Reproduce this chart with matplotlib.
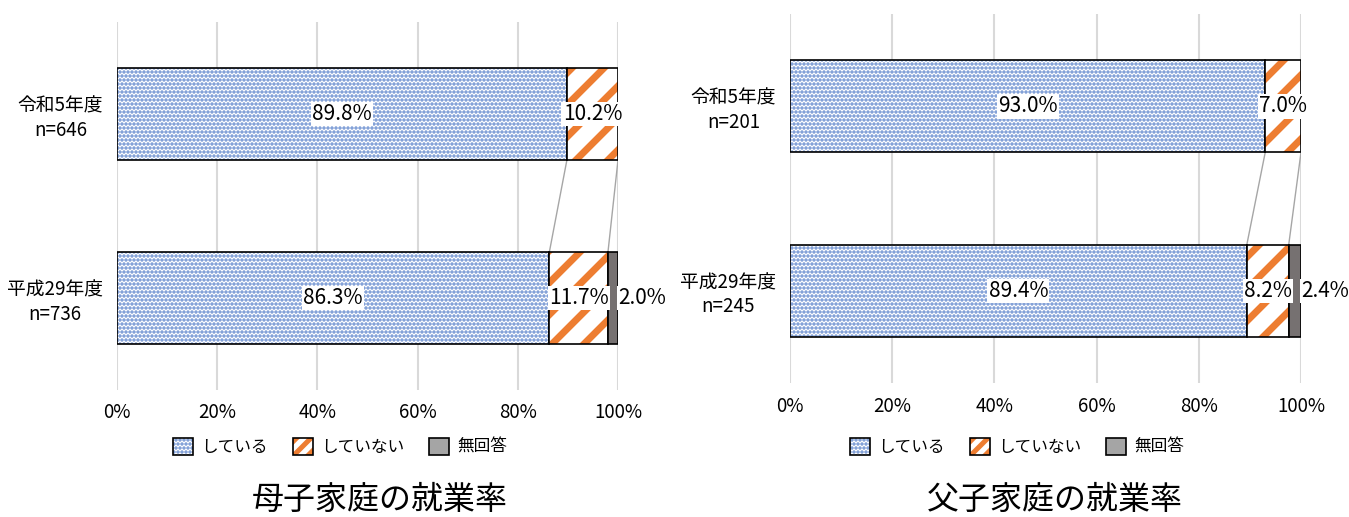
import numpy as np
import matplotlib
matplotlib.use('Agg')
import matplotlib.pyplot as plt
from matplotlib.patches import Patch, Rectangle
from matplotlib.lines import Line2D
from matplotlib.colors import to_rgba
from matplotlib.legend_handler import HandlerPatch, HandlerBase

plt.rcParams['font.family'] = ['Noto Sans CJK JP', 'DejaVu Sans']

# data
categories = ['平成29年度\nn=736', '令和5年度\nn=646']  # bottom -> top
mother_working = [86.3, 89.8]
mother_not = [11.7, 10.2]
mother_noans = [2.0, 0.0]

categories_f = ['平成29年度\nn=245', '令和5年度\nn=201']
father_working = [89.4, 93.0]
father_not = [8.2, 7.0]
father_noans = [2.4, 0.0]

series_names = ['している', 'していない', '無回答']
titles = ['母子家庭の就業率', '父子家庭の就業率']
ticks = [0, 20, 40, 60, 80, 100]

BLUE = '#4472C4'
ORANGE = '#ED7D31'
GRAY = '#767171'
GRAY_LEG = '#A5A5A5'

# 96 dpi so the dot hatch falls on a whole-pixel grid; sizes scaled back to 100 dpi look
DPI = 96
S = 100 / DPI
DOT_LW = 1.7
STRIPE_LW = 5.0 * S


def hatch_patch(p, hatch, color, hlw):
    p.set_hatch(hatch)
    p._hatch_color = to_rgba(color)
    if hasattr(p, 'set_hatch_linewidth'):
        p.set_hatch_linewidth(hlw)
    else:
        p._hatch_linewidth = hlw


def copy_hatch(leg_handle, orig):
    leg_handle.update_from(orig)
    leg_handle._hatch_color = orig._hatch_color
    leg_handle._hatch_linewidth = getattr(orig, '_hatch_linewidth', 1.0)


class StripeHandler(HandlerBase):
    # legend key with one diagonal stripe through the middle, like the original
    def create_artists(self, legend, orig_handle, xdescent, ydescent, width, height, fontsize, trans):
        x0, y0 = -xdescent, -ydescent
        cx, cy = x0 + width / 2, y0 + height / 2
        bg = Rectangle((x0, y0), width, height, facecolor='white', edgecolor='none', transform=trans)
        arts = [bg]
        per = 0.72 * width
        L = 2 * width
        for c in (-per, 0, per):
            ln = Line2D([cx + c - L, cx + c + L], [cy - L, cy + L], color=ORANGE,
                        lw=3.6 * S, transform=trans, solid_capstyle='butt')
            ln.set_clip_path(bg)
            arts.append(ln)
        edge = Rectangle((x0, y0), width, height, facecolor='none', edgecolor='black',
                         lw=1.2 * S, transform=trans)
        arts.append(edge)
        return arts


def draw_chart(ax, cats, work, notw, noans):
    y = np.arange(len(cats))
    h = 0.5
    work = np.array(work)
    notw = np.array(notw)
    noans = np.array(noans)

    for t in ticks:
        ax.axvline(t, color='#D9D9D9', lw=1.5 * S, zorder=0)

    b1 = ax.barh(y, work, height=h, color='white', edgecolor='black', lw=1.2 * S, zorder=2)
    for p in b1:
        hatch_patch(p, '....', BLUE, DOT_LW)
    b2 = ax.barh(y, notw, left=work, height=h, color='white', edgecolor='black', lw=1.2 * S, zorder=2)
    for p in b2:
        hatch_patch(p, '/', ORANGE, STRIPE_LW)
    mask = noans > 0
    ax.barh(y[mask], noans[mask], left=(work + notw)[mask], height=h,
            color=GRAY, edgecolor='black', lw=1.2 * S, zorder=2)

    # series lines between bars
    for a in [work, work + notw]:
        ax.plot([a[1], a[0]], [y[1] - h / 2, y[0] + h / 2], color='#A6A6A6', lw=1 * S, zorder=1)

    box = dict(facecolor='white', edgecolor='none', pad=1)
    for i in range(len(y)):
        ax.text(work[i] / 2, y[i], f'{work[i]:.1f}%', ha='center', va='center',
                fontsize=15 * S, bbox=box, zorder=4)
        ax.text(work[i] + notw[i] / 2, y[i], f'{notw[i]:.1f}%', ha='center', va='center',
                fontsize=15 * S, bbox=box, zorder=4)
        if noans[i] > 0:
            ax.text(100, y[i], f'{noans[i]:.1f}%', ha='left', va='center',
                    fontsize=15 * S, bbox=box, zorder=4, clip_on=False)

    ax.set_xlim(0, 100)
    ax.set_ylim(-0.5, 1.5)
    ax.set_xticks(ticks)
    ax.set_xticklabels([f'{t}%' for t in ticks], fontsize=13.5 * S)
    ax.set_yticks(y)
    ax.set_yticklabels(cats, fontsize=13.5 * S, multialignment='center')
    ax.tick_params(length=0)
    ax.tick_params(axis='x', pad=9 * S)
    ax.tick_params(axis='y', pad=10 * S)
    for s in ax.spines.values():
        s.set_visible(False)


fig = plt.figure(figsize=(1349 / DPI, 517 / DPI), dpi=DPI)
ax1 = fig.add_axes([117 / 1349, 127 / 517, 501 / 1349, 368 / 517])
ax2 = fig.add_axes([790 / 1349, 134 / 517, 511 / 1349, 369 / 517])

draw_chart(ax1, categories, mother_working, mother_not, mother_noans)
draw_chart(ax2, categories_f, father_working, father_not, father_noans)

for cx, title in [(380, titles[0]), (1055, titles[1])]:
    fig.text(cx / 1349, 1 - 500 / 517, title, ha='center', va='center', fontsize=23 * S)

for cx in [340, 1017]:
    h1 = Patch(facecolor='white', edgecolor='black', lw=1.2 * S)
    hatch_patch(h1, '....', BLUE, DOT_LW)
    h2 = Patch(facecolor='white', edgecolor='black', lw=1.2 * S)
    h3 = Patch(facecolor=GRAY_LEG, edgecolor='black', lw=1.2 * S)
    fig.legend([h1, h2, h3], series_names, loc='center',
               bbox_to_anchor=(cx / 1349, 1 - 447 / 517), ncol=3, frameon=False,
               fontsize=12 * S, handlelength=1.2, handleheight=1.2, handletextpad=0.5,
               columnspacing=1.5,
               handler_map={h1: HandlerPatch(update_func=copy_hatch), h2: StripeHandler()})

fig.savefig('out.png', dpi=DPI)
